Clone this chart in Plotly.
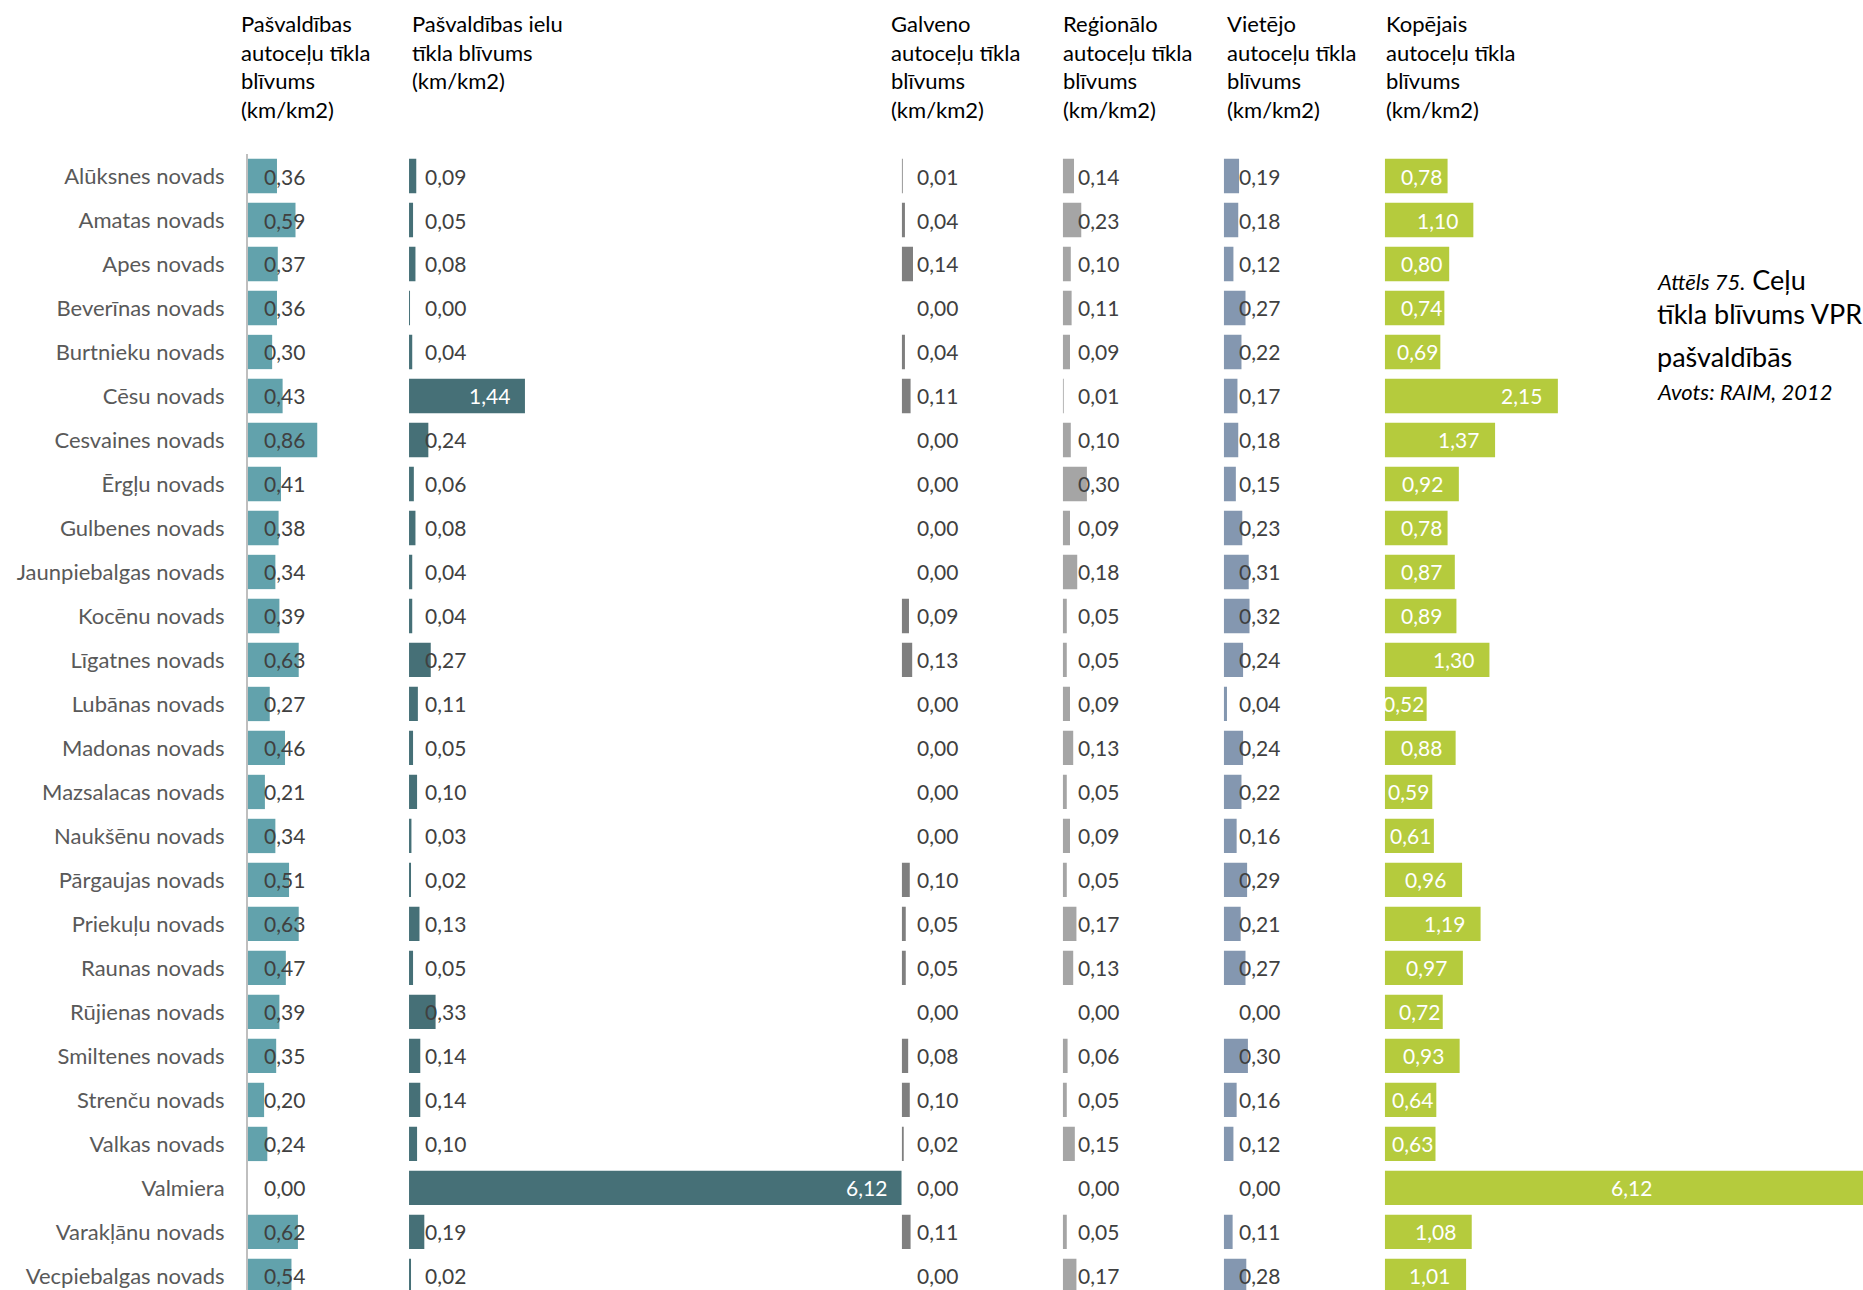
import plotly.graph_objects as go
from plotly.subplots import make_subplots

# --- data (km/km2) ---
novadi = [
    "Alūksnes novads", "Amatas novads", "Apes novads", "Beverīnas novads",
    "Burtnieku novads", "Cēsu novads", "Cesvaines novads", "Ērgļu novads",
    "Gulbenes novads", "Jaunpiebalgas novads", "Kocēnu novads", "Līgatnes novads",
    "Lubānas novads", "Madonas novads", "Mazsalacas novads", "Naukšēnu novads",
    "Pārgaujas novads", "Priekuļu novads", "Raunas novads", "Rūjienas novads",
    "Smiltenes novads", "Strenču novads", "Valkas novads", "Valmiera",
    "Varakļānu novads", "Vecpiebalgas novads",
]
pasv_autoceli = [0.36, 0.59, 0.37, 0.36, 0.30, 0.43, 0.86, 0.41, 0.38, 0.34, 0.39, 0.63, 0.27,
                 0.46, 0.21, 0.34, 0.51, 0.63, 0.47, 0.39, 0.35, 0.20, 0.24, 0.00, 0.62, 0.54]
pasv_ielas = [0.09, 0.05, 0.08, 0.003, 0.04, 1.44, 0.24, 0.06, 0.08, 0.04, 0.04, 0.27, 0.11,
              0.05, 0.10, 0.03, 0.02, 0.13, 0.05, 0.33, 0.14, 0.14, 0.10, 6.12, 0.19, 0.02]
galvenie = [0.01, 0.04, 0.14, 0.00, 0.04, 0.11, 0.00, 0.00, 0.00, 0.00, 0.09, 0.13, 0.00,
            0.00, 0.00, 0.00, 0.10, 0.05, 0.05, 0.00, 0.08, 0.10, 0.02, 0.00, 0.11, 0.00]
regionalie = [0.14, 0.23, 0.10, 0.11, 0.09, 0.01, 0.10, 0.30, 0.09, 0.18, 0.05, 0.05, 0.09,
              0.13, 0.05, 0.09, 0.05, 0.17, 0.13, 0.00, 0.06, 0.05, 0.15, 0.00, 0.05, 0.17]
vietejie = [0.19, 0.18, 0.12, 0.27, 0.22, 0.17, 0.18, 0.15, 0.23, 0.31, 0.32, 0.24, 0.04,
            0.24, 0.22, 0.16, 0.29, 0.21, 0.27, 0.00, 0.30, 0.16, 0.12, 0.00, 0.11, 0.28]
kopejais = [0.78, 1.10, 0.80, 0.74, 0.69, 2.15, 1.37, 0.92, 0.78, 0.87, 0.89, 1.30, 0.52,
            0.88, 0.59, 0.61, 0.96, 1.19, 0.97, 0.72, 0.93, 0.64, 0.63, 6.12, 1.08, 1.01]

virsraksti = [
    "Pašvaldības<br>autoceļu tīkla<br>blīvums<br>(km/km2)",
    "Pašvaldības ielu<br>tīkla blīvums<br>(km/km2)",
    "Galveno<br>autoceļu tīkla<br>blīvums<br>(km/km2)",
    "Reģionālo<br>autoceļu tīkla<br>blīvums<br>(km/km2)",
    "Vietējo<br>autoceļu tīkla<br>blīvums<br>(km/km2)",
    "Kopējais<br>autoceļu tīkla<br>blīvums<br>(km/km2)",
]
krasas = ["#62A2AC", "#467077", "#7F7F7F", "#A5A5A5", "#8497B0", "#B5CB3D"]

# --- layout geometry (pixels) ---
W, H = 1863, 1290
ML, MT = 248, 154
PW, PH = W - ML, H - MT
FONT = "Lato"


def px_x(x):
    return (x - ML) / PW


def px_y(y):
    return 1 - (y - MT) / PH


def fmt(v):
    return f"{v:.2f}".replace(".", ",")


ranges = [2, max(pasv_ielas), 2, 2, 2, 5.94]
fig = make_subplots(rows=1, cols=6, shared_yaxes=True, horizontal_spacing=0,
                    column_widths=ranges)

series = [pasv_autoceli, pasv_ielas, galvenie, regionalie, vietejie, kopejais]
BASE = 0.17
for i, vals in enumerate(series):
    col = i + 1
    xref = "x" if col == 1 else f"x{col}"
    fig.add_trace(go.Bar(x=vals, y=novadi, orientation="h", marker_color=krasas[i],
                         marker_line_width=0, hoverinfo="skip"), row=1, col=col)

    # data labels: at the base, or inside the end for the long bars
    for name, v in zip(novadi, vals):
        if i == 5:
            if v > 5:
                lx, anchor = v / 2, "center"
            else:
                lx, anchor = max(v - 0.17, min(0.73, v - 0.01)), "right"
            color = "white"
        elif i == 1 and v > 1:
            lx, anchor, color = v - 0.16, "right", "white"
        else:
            lx, anchor, color = BASE, "left", "#404040"
        fig.add_annotation(x=lx, y=name, xref=xref, yref="y", text=fmt(v),
                           showarrow=False, xanchor=anchor, yanchor="middle",
                           font=dict(family=FONT, size=21, color=color))

    fig.update_xaxes(range=[0, ranges[i]], visible=False, row=1, col=col)

fig.update_yaxes(type="category", categoryarray=novadi, range=[25.32, -0.5],
                 showgrid=False, zeroline=False, ticks="", fixedrange=True)
fig.update_yaxes(showline=True, linecolor="#BFBFBF", linewidth=2,
                 tickfont=dict(family=FONT, size=22, color="#595959"),
                 ticklabelstandoff=17, row=1, col=1)

# column headers
hdr_x = [239, 410, 889, 1061, 1225, 1384]
for hx, txt in zip(hdr_x, virsraksti):
    fig.add_annotation(x=px_x(hx), y=px_y(8), xref="paper", yref="paper", text=txt,
                       showarrow=False, xanchor="left", yanchor="top", align="left",
                       font=dict(family=FONT, size=22, color="#000000"))

# caption
cap = [
    ("<i><span style='font-size:22px'>Attēls 75.</span></i> Ceļu", 279, 27),
    ("tīkla blīvums VPR", 313, 27),
    ("pašvaldībās", 357, 27),
    ("<i>Avots: RAIM, 2012</i>", 391, 22),
]
for txt, cy, fs in cap:
    fig.add_annotation(x=px_x(1655), y=px_y(cy), xref="paper", yref="paper", text=txt,
                       showarrow=False, xanchor="left", yanchor="middle", align="left",
                       font=dict(family=FONT, size=fs, color="#000000"))

fig.update_layout(width=W, height=H, margin=dict(l=ML, r=0, t=MT, b=0),
                  bargap=0.22, showlegend=False, plot_bgcolor="white",
                  paper_bgcolor="white", font=dict(family=FONT))

# page margin off, so the figure sits at the window's corner
fig.write_html("out.html", config={"displayModeBar": False},
               post_script="document.body.style.margin='0';document.body.style.overflow='hidden';")
